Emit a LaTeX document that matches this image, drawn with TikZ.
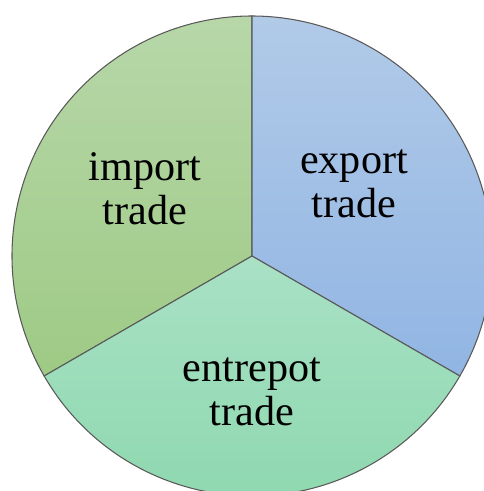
\documentclass[tikz,border=0pt]{standalone}
\usepackage{fontspec}
\setmainfont{Liberation Serif}
\definecolor{impTop}{HTML}{B7D7A9}
\definecolor{impBot}{HTML}{9ECA85}
\definecolor{expTop}{HTML}{B1CAE8}
\definecolor{expBot}{HTML}{91B5E3}
\definecolor{entTop}{HTML}{A9E1C5}
\definecolor{entBot}{HTML}{8BD7AD}

\begin{document}
\begin{tikzpicture}[scale=0.025,
  slice/.style={draw=black!65,line width=0.75pt},
  lbl/.style={align=center,font=\fontsize{30}{31}\selectfont}]
\useasboundingbox (-252,-235) rectangle (232,256);
\clip (-252,-235) rectangle (232,256);
\coordinate (O) at (0,0);

  \draw[slice,top color=impTop,bottom color=impBot] (O) -- (90:240) arc (90:210:240) -- cycle;
  \draw[slice,top color=expTop,bottom color=expBot] (O) -- (-30:240) arc (-30:90:240) -- cycle;
  \draw[slice,top color=entTop,bottom color=entBot] (O) -- (210:240) arc (210:330:240) -- cycle;

  \node[lbl] (imp) at (-107,67) {import\\trade};
  \node[lbl] (exp) at (102,72) {export\\trade};
  \node[lbl] (ent) at (0,-136) {entrepot\\trade};

\end{tikzpicture}
\end{document}
